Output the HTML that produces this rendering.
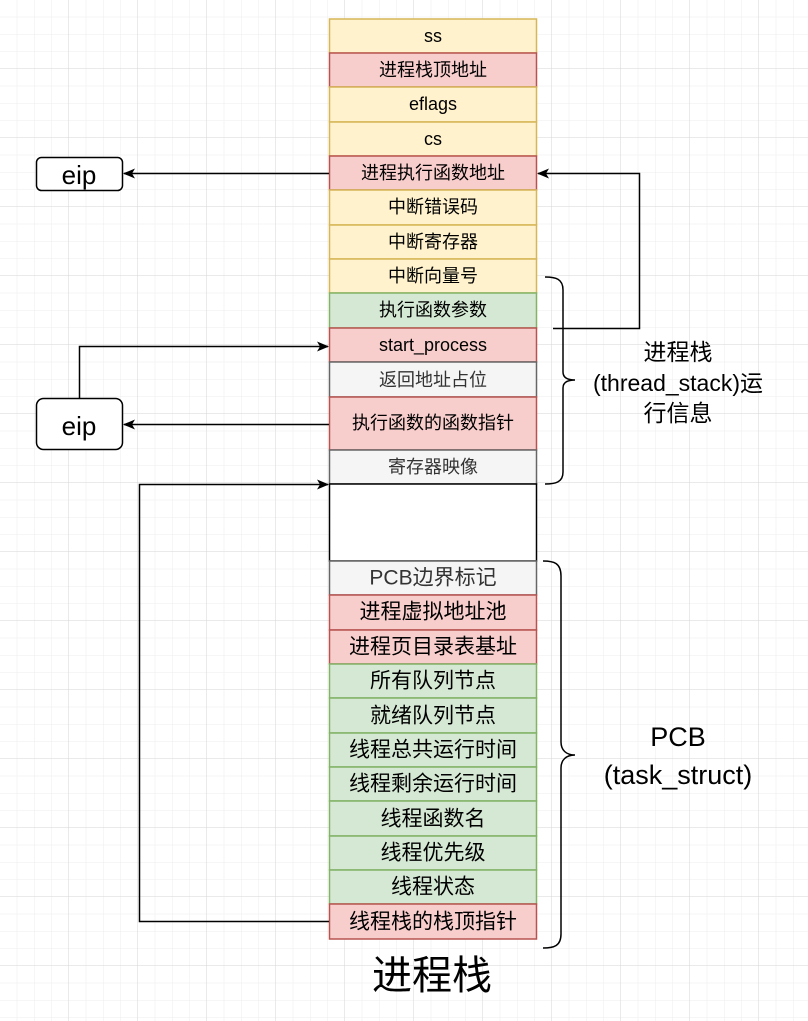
<!DOCTYPE html>
<html><head><meta charset="utf-8"><style>
html,body{margin:0;padding:0;background:#fff}
svg{display:block}
text{font-family:"Liberation Sans","Noto Sans CJK SC",sans-serif;text-anchor:middle;dominant-baseline:central}
</style></head><body>
<svg width="808" height="1021" viewBox="0 0 808 1021" xmlns="http://www.w3.org/2000/svg">
<defs>
<pattern id="g1" width="17.25" height="17.25" patternUnits="userSpaceOnUse"><path d="M17.25 0V17.25H0" fill="none" stroke="#ececec" stroke-width="1"/></pattern>
<pattern id="g2" width="69" height="69" patternUnits="userSpaceOnUse"><path d="M69 0V69H0" fill="none" stroke="#d6d6d6" stroke-width="1"/></pattern>
<marker id="a" markerWidth="12" markerHeight="10" refX="11" refY="5" orient="auto" markerUnits="userSpaceOnUse"><path d="M0 0L12 5L0 10L3 5Z" fill="#000"/></marker>
</defs>
<rect width="808" height="1021" fill="url(#g1)"/>
<rect width="808" height="1021" fill="url(#g2)"/>
<g stroke-width="1.5">
<rect x="329.5" y="19" width="207" height="34" fill="#fff2cc" stroke="#d6b656"/>
<rect x="329.5" y="53" width="207" height="34" fill="#f8cecc" stroke="#b85450"/>
<rect x="329.5" y="87" width="207" height="35" fill="#fff2cc" stroke="#d6b656"/>
<rect x="329.5" y="122" width="207" height="34" fill="#fff2cc" stroke="#d6b656"/>
<rect x="329.5" y="156" width="207" height="34" fill="#f8cecc" stroke="#b85450"/>
<rect x="329.5" y="190" width="207" height="35" fill="#fff2cc" stroke="#d6b656"/>
<rect x="329.5" y="225" width="207" height="34" fill="#fff2cc" stroke="#d6b656"/>
<rect x="329.5" y="259" width="207" height="34" fill="#fff2cc" stroke="#d6b656"/>
<rect x="329.5" y="293" width="207" height="35" fill="#d5e8d4" stroke="#82b366"/>
<rect x="329.5" y="328" width="207" height="34" fill="#f8cecc" stroke="#b85450"/>
<rect x="329.5" y="362" width="207" height="35" fill="#f5f5f5" stroke="#666"/>
<rect x="329.5" y="397" width="207" height="53" fill="#f8cecc" stroke="#b85450"/>
<rect x="329.5" y="450" width="207" height="34" fill="#f5f5f5" stroke="#666"/>
<rect x="329.5" y="484" width="207" height="77" fill="#fff" stroke="#000"/>
<rect x="329.5" y="561" width="207" height="34" fill="#f5f5f5" stroke="#666"/>
<rect x="329.5" y="595" width="207" height="35" fill="#f8cecc" stroke="#b85450"/>
<rect x="329.5" y="630" width="207" height="34" fill="#f8cecc" stroke="#b85450"/>
<rect x="329.5" y="664" width="207" height="34" fill="#d5e8d4" stroke="#82b366"/>
<rect x="329.5" y="698" width="207" height="35" fill="#d5e8d4" stroke="#82b366"/>
<rect x="329.5" y="733" width="207" height="34" fill="#d5e8d4" stroke="#82b366"/>
<rect x="329.5" y="767" width="207" height="34" fill="#d5e8d4" stroke="#82b366"/>
<rect x="329.5" y="801" width="207" height="35" fill="#d5e8d4" stroke="#82b366"/>
<rect x="329.5" y="836" width="207" height="34" fill="#d5e8d4" stroke="#82b366"/>
<rect x="329.5" y="870" width="207" height="34" fill="#d5e8d4" stroke="#82b366"/>
<rect x="329.5" y="904" width="207" height="35" fill="#f8cecc" stroke="#b85450"/>
</g>
<g font-size="18" fill="#000">
<text x="433" y="36">ss</text>
<text x="433" y="70">进程栈顶地址</text>
<text x="433" y="104">eflags</text>
<text x="433" y="139">cs</text>
<text x="433" y="173">进程执行函数地址</text>
<text x="433" y="207">中断错误码</text>
<text x="433" y="242">中断寄存器</text>
<text x="433" y="276">中断向量号</text>
<text x="433" y="310">执行函数参数</text>
<text x="433" y="345">start_process</text>
<text x="433" y="380" fill="#333">返回地址占位</text>
<text x="433" y="423">执行函数的函数指针</text>
<text x="433" y="467" fill="#333">寄存器映像</text>
</g>
<g font-size="21" fill="#000">
<text x="433" y="578" fill="#333">PCB边界标记</text>
<text x="433" y="612">进程虚拟地址池</text>
<text x="433" y="647">进程页目录表基址</text>
<text x="433" y="681">所有队列节点</text>
<text x="433" y="716">就绪队列节点</text>
<text x="433" y="750">线程总共运行时间</text>
<text x="433" y="784">线程剩余运行时间</text>
<text x="433" y="819">线程函数名</text>
<text x="433" y="853">线程优先级</text>
<text x="433" y="887">线程状态</text>
<text x="433" y="922">线程栈的栈顶指针</text>
</g>
<rect x="36.5" y="157.5" width="86" height="33" rx="5" fill="#fff" stroke="#000" stroke-width="1.5"/>
<text x="79" y="175" font-size="26">eip</text>
<rect x="36.5" y="398.5" width="86" height="51" rx="7" fill="#fff" stroke="#000" stroke-width="1.5"/>
<text x="79" y="426" font-size="26">eip</text>
<g fill="none" stroke="#000" stroke-width="1.5">
<path d="M329 173.5H124" marker-end="url(#a)"/>
<path d="M553 328.5H639.5V173.5H538" marker-end="url(#a)"/>
<path d="M79.5 398V346.5H328" marker-end="url(#a)"/>
<path d="M329 424.5H124" marker-end="url(#a)"/>
<path d="M329 921.5H139.5V484.5H328" marker-end="url(#a)"/>
<path d="M545 277C556 277 563 279 563 290V372C563 378 568 380 575 380C568 380 563 382 563 388V472C563 482 556 484 545 484"/>
<path d="M543 561C554 561 561 563 561 576V742C561 750 566 755 575 755C566 755 561 760 561 768V934C561 946 554 948 543 948"/>
</g>
<g font-size="23" fill="#000">
<text x="678" y="352">进程栈</text>
<text x="678" y="383">(thread_stack)运</text>
<text x="678" y="413">行信息</text>
<text x="678" y="737" font-size="27">PCB</text>
<text x="678" y="775" font-size="27">(task_struct)</text>
</g>
<text x="432" y="976" font-size="40">进程栈</text>
</svg>
</body></html>
